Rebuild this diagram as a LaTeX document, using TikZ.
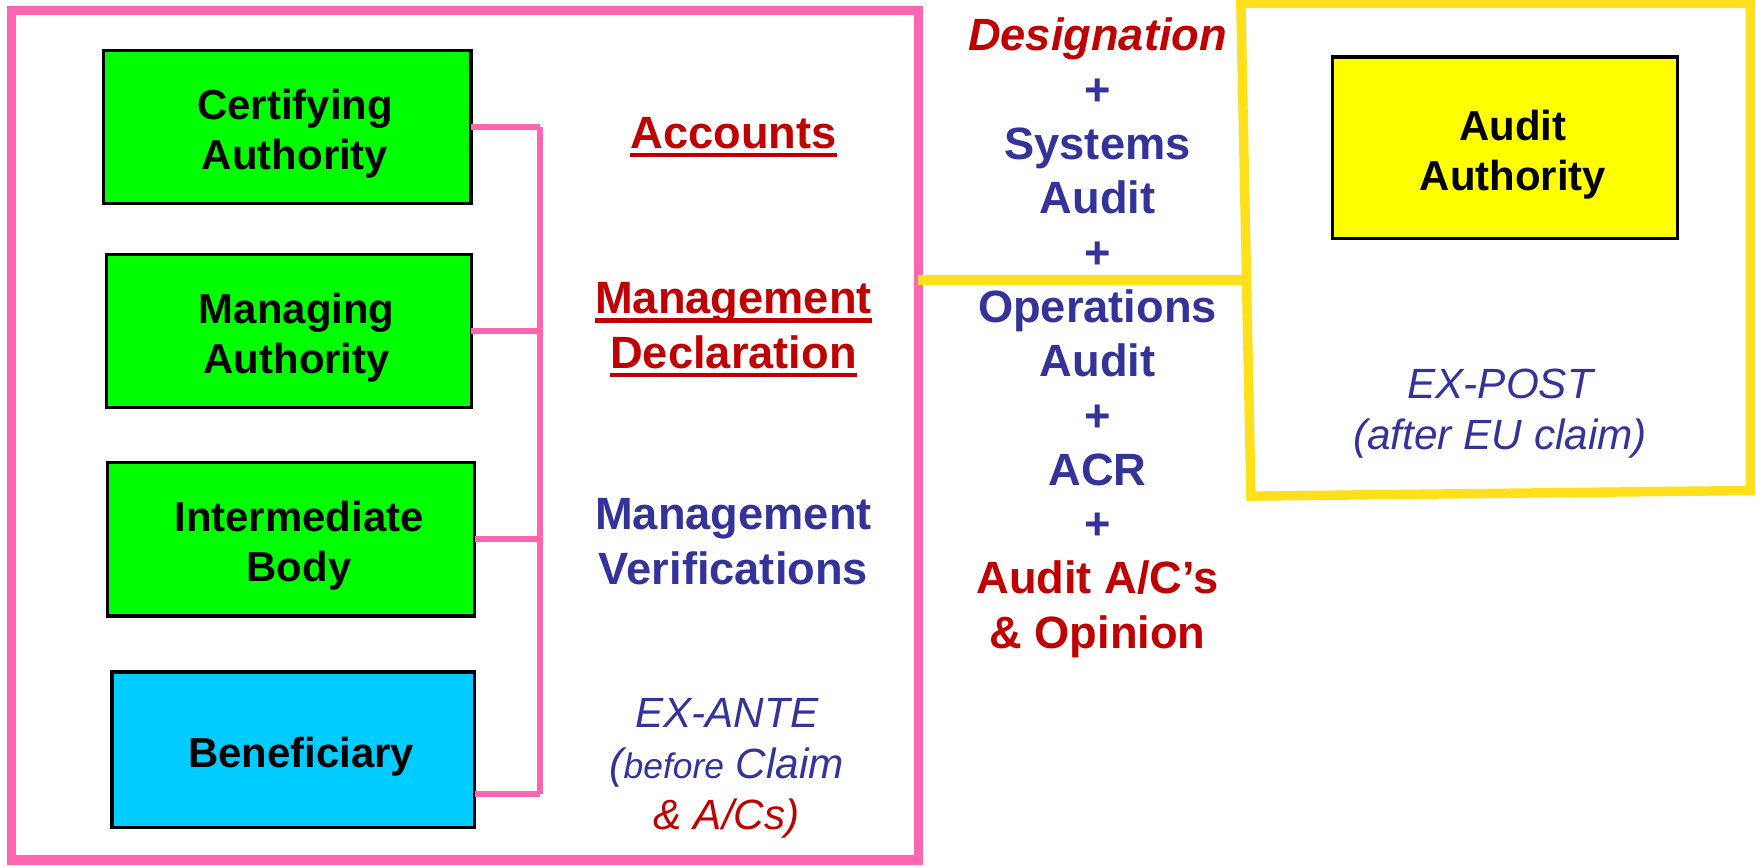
\documentclass[tikz,border=0pt]{standalone}
\usepackage{fontspec}
\setmainfont{Liberation Sans}
\newcommand{\redline}[1]{\setbox0\hbox{#1}\rlap{\rule[-4.5pt]{\wd0}{2.2pt}}\box0}
\definecolor{pinkline}{RGB}{255,102,178}
\definecolor{yellowline}{RGB}{255,224,26}
\definecolor{darkred}{RGB}{192,0,0}
\definecolor{navy}{RGB}{51,51,153}
\definecolor{cyanbox}{RGB}{0,204,255}
\definecolor{greenbox}{RGB}{0,255,0}
\definecolor{yellowbox}{RGB}{255,255,0}
\begin{document}
\begin{tikzpicture}[x=0.02cm, y=-0.02cm,
    body/.style={draw, line width=1.7pt, minimum width=6.56cm, minimum height=2.74cm, outer sep=0pt},
    boxtext/.style={align=center, inner sep=0pt, xshift=0.14cm, yshift=-0.12cm, font=\fontsize{21.3}{25.6}\selectfont\bfseries},
    heading/.style={anchor=north, inner sep=0pt, align=center, font=\fontsize{23}{27.6}\selectfont\bfseries},
    note/.style={anchor=north, inner sep=0pt, align=center, text=navy, font=\fontsize{21.5}{26}\selectfont\itshape},
    bracket/.style={draw=pinkline, line width=3.2pt}]
    \useasboundingbox (0,0) rectangle (1568,774);

    % frames
    \node[draw=pinkline, line width=4.6pt, outer sep=0pt, minimum width=16.2cm, minimum height=15.18cm] (left) at (415,388.5) {};
    \draw[yellowline, line width=4.8pt] (1108,3) -- (1563,3) -- (1563,438) -- (1117,443) -- cycle;
    \coordinate (link) at (1112,250);
    \draw[yellowline, line width=4.8pt] (left.east |- link) -- (link);

    % bodies
    \node[body, fill=greenbox, label={[boxtext]center:{Certifying\\Authority}}] (ca) at (256.5,113.5) {};
    \node[body, fill=greenbox, minimum width=6.52cm, label={[boxtext]center:{Managing\\Authority}}] (ma) at (258,295.5) {};
    \node[body, fill=greenbox, label={[boxtext]center:{Intermediate\\Body}}] (ib) at (260,481.5) {};
    \node[body, fill=cyanbox, minimum width=6.48cm, minimum height=2.78cm, label={[boxtext]center:Beneficiary}] (ben) at (262,669.5) {};
    \node[body, fill=yellowbox, minimum width=6.16cm, minimum height=3.24cm, label={[boxtext]center:{Audit\\Authority}}] (aa) at (1344,132) {};

    % bracket
    \coordinate (top) at (482,113);
    \coordinate (bot) at (482,709);
    \path[bracket]
        (top) edge (bot)
        (ca.east) edge (ca.east -| top)
        (ma.east) edge (ma.east -| top)
        (ib.east) edge (ib.east -| top)
        (ben.east |- bot) edge (bot)
        ;

    % texts
    \node[heading, text=darkred] (acc) at (655,104.5) {\redline{Accounts}};
    \node[heading, text=darkred] (decl) at (655,252) {\redline{Management}\\\redline{Declaration}};
    \node[heading, text=navy] (verif) at (655,445) {Management\\Verifications};
    \node[note] (exante) at (649,623) {EX-ANTE\\({\fontsize{18}{26}\selectfont before} Claim\\\textcolor{darkred}{\& A/Cs)}};
    \node[note] (expost) at (1339.5,329) {EX-POST\\(after EU claim)};
    \node[heading, text=navy] (audits) at (980,15.8) {\textcolor{darkred}{\itshape Designation}\\+\\Systems\\Audit\\+\\Operations\\Audit\\+\\ACR\\+\\\textcolor{darkred}{Audit A/C’s}\\\textcolor{darkred}{\& Opinion}};
\end{tikzpicture}
\end{document}
